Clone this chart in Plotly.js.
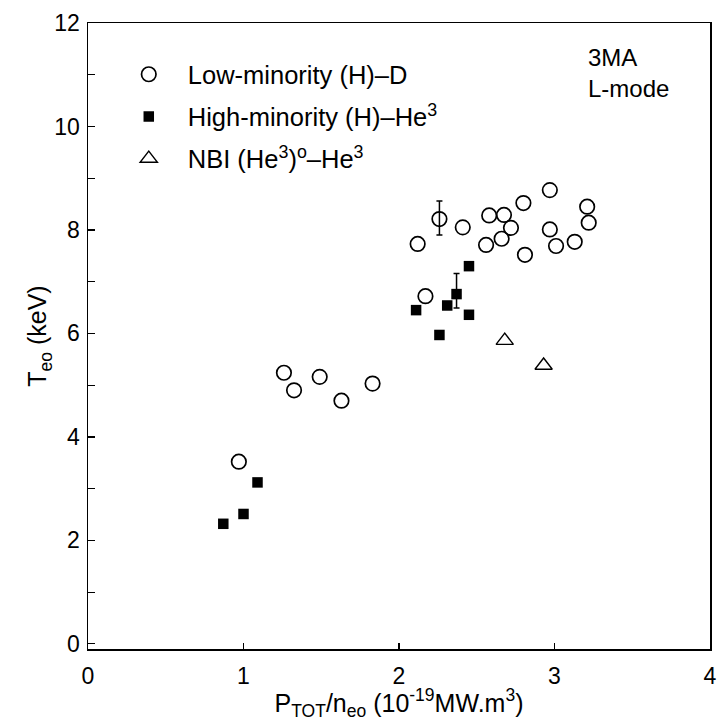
<!DOCTYPE html>
<html>
<head>
<meta charset="utf-8">
<script src="https://cdn.plot.ly/plotly-3.0.1.min.js"></script>
<style>html,body{margin:0;padding:0;background:#fff;}#chart{width:717px;height:721px;}</style>
</head>
<body>
<div id="chart"></div>
<script>
// Low-minority (H)-D : open circles
const lowX = [0.97, 1.26, 1.325, 1.49, 1.63, 1.83, 2.12, 2.17, 2.26, 2.41, 2.56, 2.58, 2.66, 2.675, 2.72, 2.80, 2.81, 2.97, 2.97, 3.01, 3.13, 3.21, 3.22];
const lowY = [3.52, 5.24, 4.90, 5.16, 4.70, 5.03, 7.73, 6.72, 8.21, 8.05, 7.71, 8.28, 7.83, 8.29, 8.04, 8.52, 7.52, 8.77, 8.01, 7.69, 7.77, 8.45, 8.14];
// error bar on one low-minority point
const lowErrIndex = 8;
const lowErrPlus = 0.35;
const lowErrMinus = 0.31;

// High-minority (H)-He3 : filled squares
const highX = [0.87, 1.00, 1.09, 2.11, 2.26, 2.31, 2.37, 2.45, 2.45];
const highY = [2.32, 2.51, 3.12, 6.45, 5.97, 6.54, 6.76, 7.30, 6.36];
// error bar on one high-minority point
const highErrIndex = 6;
const highErrPlus = 0.40;
const highErrMinus = 0.27;

// NBI (He3)o-He3 : open triangles
const nbiX = [2.68, 2.93];
const nbiY = [5.86, 5.38];

const seriesNames = [
  'Low-minority (H)\u2013D',
  'High-minority (H)\u2013He<sup>3</sup>',
  'NBI (He<sup>3</sup>)<sup>o</sup>\u2013He<sup>3</sup>'
];

const xTickVals = [0, 1, 2, 3, 4];
const yTickVals = [0, 2, 4, 6, 8, 10, 12];

const FONT = 'Liberation Sans, Arial, Helvetica, sans-serif';

const errStyle = {color: '#000', thickness: 1.5, width: 3};

const traces = [
  {
    x: lowX, y: lowY, type: 'scatter', mode: 'markers', name: seriesNames[0],
    legendgroup: 'a',
    marker: {symbol: 'circle-open', size: 14.5, color: '#000', line: {width: 1.7, color: '#000'}}
  },
  {
    x: highX, y: highY, type: 'scatter', mode: 'markers', name: seriesNames[1],
    legendgroup: 'b',
    marker: {symbol: 'square', size: 10.5, color: '#000', line: {width: 0}}
  },
  {
    x: nbiX, y: nbiY, type: 'scatter', mode: 'markers', name: seriesNames[2],
    legendgroup: 'c',
    marker: {symbol: 'triangle-up-open', size: 15, color: '#000', line: {width: 1.4, color: '#000'}}
  },
  {
    x: [lowX[lowErrIndex]], y: [lowY[lowErrIndex]], type: 'scatter', mode: 'markers',
    showlegend: false, hoverinfo: 'skip',
    marker: {size: 1, opacity: 0},
    error_y: Object.assign({type: 'data', symmetric: false, array: [lowErrPlus], arrayminus: [lowErrMinus]}, errStyle)
  },
  {
    x: [highX[highErrIndex]], y: [highY[highErrIndex]], type: 'scatter', mode: 'markers',
    showlegend: false, hoverinfo: 'skip',
    marker: {size: 1, opacity: 0},
    error_y: Object.assign({type: 'data', symmetric: false, array: [highErrPlus], arrayminus: [highErrMinus]}, errStyle)
  }
];

const layout = {
  width: 717, height: 721,
  margin: {l: 88, r: 7, t: 23, b: 72},
  paper_bgcolor: '#fff', plot_bgcolor: '#fff',
  font: {family: FONT, color: '#000', size: 22},
  showlegend: true,
  legend: {
    x: 0.035, y: 0.955, xanchor: 'left', yanchor: 'top',
    bgcolor: 'rgba(0,0,0,0)', borderwidth: 0,
    font: {family: FONT, size: 25.5, color: '#000'},
    itemwidth: 68, tracegroupgap: 6, traceorder: 'grouped'
  },
  xaxis: {
    range: [0, 4], tickvals: xTickVals, ticktext: xTickVals.map(String),
    ticks: 'inside', ticklen: 6, tickwidth: 1.3, tickcolor: '#000',
    showline: true, linecolor: '#000', linewidth: 1.5, mirror: true,
    showgrid: false, zeroline: false,
    ticklabelstandoff: 6,
    tickfont: {family: FONT, size: 23, color: '#000'},
    title: {text: 'P<sub>TOT</sub>/n<sub>eo</sub> (10<sup>-19</sup>MW.m<sup>3</sup>)', font: {family: FONT, size: 25, color: '#000'}, standoff: 8}
  },
  yaxis: {
    range: [-0.1, 12], tickvals: yTickVals, ticktext: yTickVals.map(String),
    ticks: 'inside', ticklen: 7, tickwidth: 1.3, tickcolor: '#000',
    minor: {dtick: 1, ticks: 'inside', ticklen: 7, tickwidth: 1.1, tickcolor: '#000', showgrid: false},
    showline: true, linecolor: '#000', linewidth: 1.5, mirror: true,
    showgrid: false, zeroline: false,
    ticklabelstandoff: 2,
    tickfont: {family: FONT, size: 23, color: '#000'},
    title: {text: 'T<sub>eo</sub> (keV)', font: {family: FONT, size: 25, color: '#000'}, standoff: 0}
  },
  annotations: [
    {
      xref: 'paper', yref: 'paper', x: 0.80, y: 0.97, xanchor: 'left', yanchor: 'top',
      text: '3MA<br>L-mode', showarrow: false, align: 'left',
      font: {family: FONT, size: 24, color: '#000'}
    }
  ]
};

Plotly.newPlot('chart', traces, layout, {displayModeBar: false, staticPlot: true});
</script>
</body>
</html>
